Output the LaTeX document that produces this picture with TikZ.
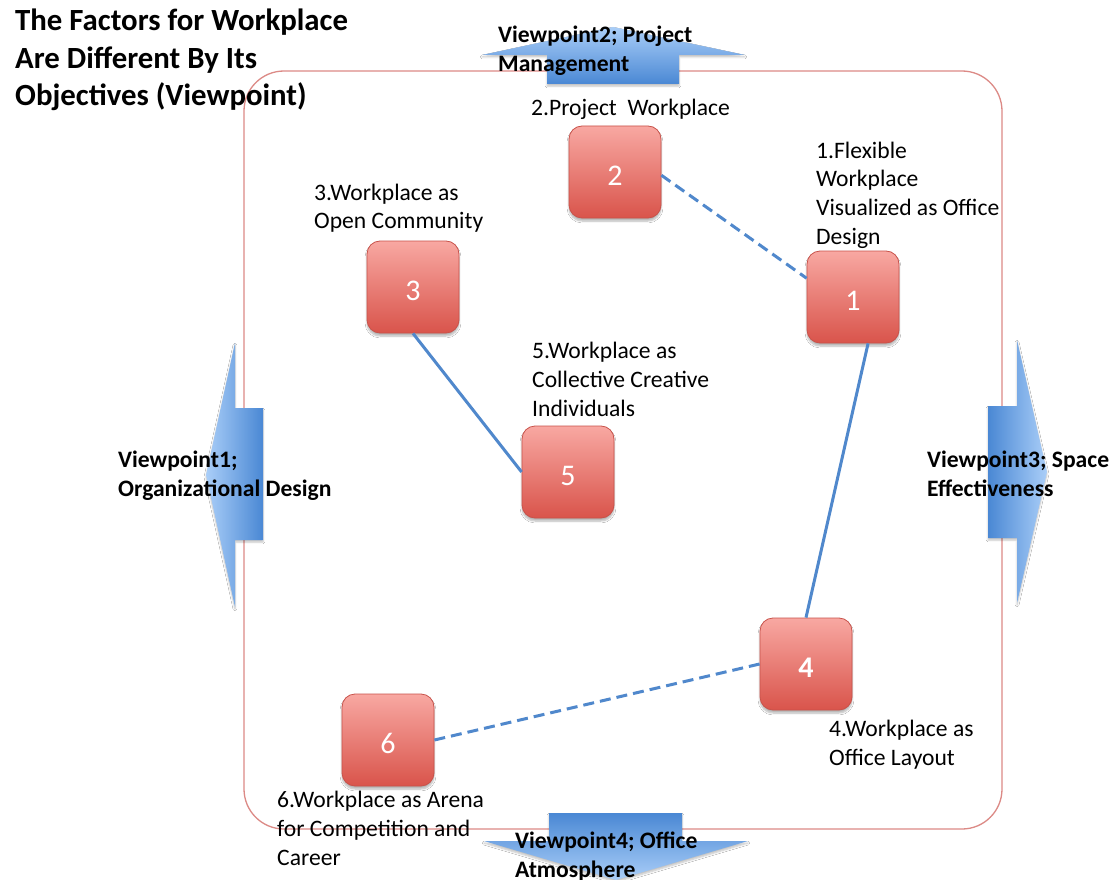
\documentclass[tikz,border=0pt]{standalone}
\usepackage{fontspec}
\setmainfont{Carlito}
\usetikzlibrary{shadows,shadows.blur}
\definecolor{arrowlight}{HTML}{AACEF8}
\definecolor{arrowdark}{HTML}{4A88D4}
\definecolor{boxtop}{HTML}{F8A8A2}
\definecolor{boxbottom}{HTML}{D9544B}
\definecolor{boxline}{HTML}{C8524A}
\definecolor{framered}{HTML}{DC8A86}
\definecolor{linkblue}{HTML}{5088CC}
\tikzset{
  numbox/.style={draw=boxline, line width=0.8pt, rounded corners=13pt,
    minimum width=92pt, minimum height=92pt, inner sep=0pt,
    text height=27pt, text depth=0pt,
    top color=boxtop, bottom color=boxbottom, text=white,
    font=\fontsize{30}{36}\selectfont,
    blur shadow={shadow xshift=0pt, shadow yshift=-3pt, shadow blur steps=6, shadow opacity=30}},
  % multi-line labels are placed by the baseline of their last line
  lbl/.style={anchor=base west, align=left, inner sep=0pt,
    font=\fontsize{23.6}{28.6}\selectfont},
  vlbl/.style={anchor=base west, align=left, inner sep=0pt,
    font=\bfseries\fontsize{23.6}{29}\selectfont},
  link/.style={draw=linkblue, line width=3pt},
  dlink/.style={link, dash pattern=on 11pt off 6pt},
  vpshadow/.style={blur shadow={shadow xshift=0pt, shadow yshift=-2pt, shadow blur steps=5, shadow opacity=25}}
}
\begin{document}
\begin{tikzpicture}[x=1pt,y=-1pt]
\useasboundingbox (0,0) rectangle (1117,880);
\fill[white] (0,0) rectangle (1117,880);

% outer frame
\draw[framered, line width=1.3pt, rounded corners=40pt] (244,71) rectangle (1002,829);

% viewpoint arrows
\path[vpshadow, left color=arrowlight, right color=arrowdark]
  (206,475) -- (235,343) -- (235,408) -- (263,408) -- (263,540) -- (235,540) -- (235,607) -- cycle;
\path[vpshadow, left color=arrowdark, right color=arrowlight]
  (1047,472) -- (1017,340) -- (1017,406) -- (988,406) -- (988,538) -- (1017,538) -- (1017,603) -- cycle;
\path[vpshadow, top color=arrowlight, bottom color=arrowdark]
  (613,27) -- (745,55) -- (679,55) -- (679,84) -- (547,84) -- (547,55) -- (482,55) -- cycle;
\path[vpshadow, top color=arrowdark, bottom color=arrowlight]
  (616,880) -- (748,841) -- (682,841) -- (682,813) -- (549,813) -- (549,841) -- (484,841) -- cycle;

% numbered factors
\node[numbox] (b1) at (853,297) {1};
\node[numbox] (b2) at (615,172) {2};
\node[numbox] (b3) at (413,287) {3};
\node[numbox, font=\bfseries\fontsize{30}{36}\selectfont] (b4) at (806,664) {4};
\node[numbox] (b5) at (568,472) {5};
\node[numbox] (b6) at (388,740) {6};

% relations
\draw[dlink] (b2.356) -- (b1.158);
\draw[link] (b3.south) -- (b5.west);
\draw[link] (b1.288) -- (b4.north);
\draw[dlink] (b4.west) -- (b6.east);

% title
\node[anchor=base west, align=left, inner sep=0pt,
  font=\bfseries\fontsize{30.8}{37.5}\selectfont] (title) at (15,106)
  {The Factors for Workplace\\Are Different By Its\\Objectives (Viewpoint)};

% factor labels
\node[lbl] (l1) at (816,244) {1.Flexible\\Workplace\\Visualized as Office\\Design};
\node[lbl] (l2) at (531,116) {2.Project\ \ Workplace};
\node[lbl] (l3) at (314,229) {3.Workplace as\\Open Community};
\node[lbl] (l4) at (829,765) {4.Workplace as\\Office Layout};
\node[lbl] (l5) at (532,416) {5.Workplace as\\Collective Creative\\Individuals};
\node[lbl] (l6) at (277,865) {6.Workplace as Arena\\for Competition and\\Career};

% viewpoint labels
\node[vlbl] (v1) at (118,496) {Viewpoint1;\\Organizational Design};
\node[vlbl] (v2) at (498,72) {Viewpoint2; Project\\Management};
\node[vlbl] (v3) at (927,496) {Viewpoint3; Space\\Effectiveness};
\node[vlbl] (v4) at (515,877) {Viewpoint4; Office\\Atmosphere};
\end{tikzpicture}
\end{document}
